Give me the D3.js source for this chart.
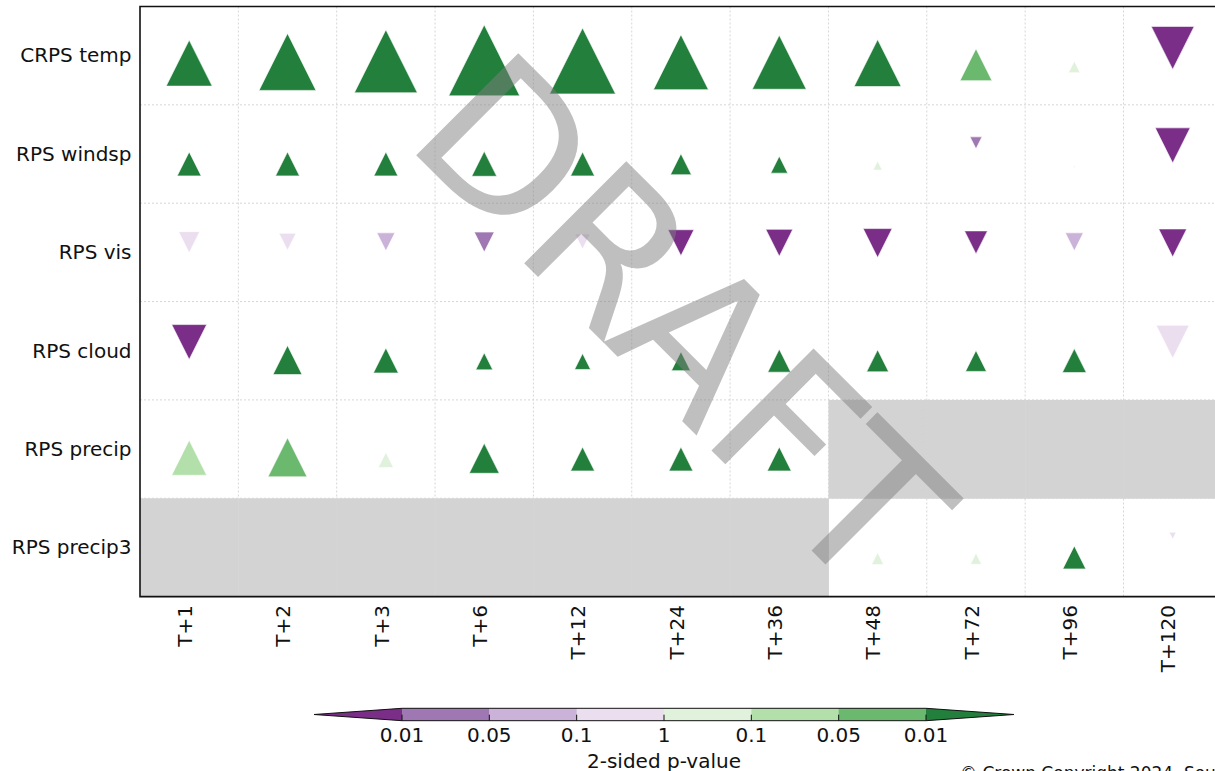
<!DOCTYPE html>
<html>
<head>
<meta charset="utf-8">
<script src="https://cdn.jsdelivr.net/npm/d3@7"></script>
<style>
  body { margin: 0; background: #fff; }
  svg { display: block; }
</style>
</head>
<body>
<div id="chart"></div>
<script>
const rowNames = ["CRPS temp", "RPS windsp", "RPS vis", "RPS cloud", "RPS precip", "RPS precip3"];
const leadTimes = ["T+1", "T+2", "T+3", "T+6", "T+12", "T+24", "T+36", "T+48", "T+72", "T+96", "T+120"];

// % change in score, sign gives the triangle direction; null = no data (grey cell)
const tempChange = [4.6, 5.7, 6.3, 7.1, 6.6, 5.5, 5.4, 4.7, 3.2, 1.15, -4.3];
const windspChange = [2.4, 2.4, 2.4, 2.5, 2.4, 2.1, 1.7, 0.9, -1.2, 0.2, -3.5];
const visChange = [-2.1, -1.7, -1.8, -2.0, -1.5, -2.6, -2.7, -2.9, -2.3, -1.8, -2.8];
const cloudChange = [-3.5, 2.9, 2.5, 1.7, 1.6, 1.9, 2.3, 2.2, 2.1, 2.4, -3.3];
const precipChange = [3.5, 3.9, 1.5, 3.0, 2.4, 2.4, 2.4, null, null, null, null];
const precip3Change = [null, null, null, null, null, null, null, 1.2, 1.1, 2.3, -0.7];

// 2-sided p-values
const tempP = [0.005, 0.005, 0.005, 0.005, 0.005, 0.005, 0.005, 0.005, 0.03, 0.5, 0.005];
const windspP = [0.005, 0.005, 0.005, 0.005, 0.005, 0.005, 0.005, 0.5, 0.03, 0.5, 0.005];
const visP = [0.5, 0.5, 0.07, 0.03, 0.5, 0.005, 0.005, 0.005, 0.005, 0.07, 0.005];
const cloudP = [0.005, 0.005, 0.005, 0.005, 0.005, 0.005, 0.005, 0.005, 0.005, 0.005, 0.5];
const precipP = [0.07, 0.03, 0.5, 0.005, 0.005, 0.005, 0.005, null, null, null, null];
const precip3P = [null, null, null, null, null, null, null, 0.5, 0.5, 0.005, 0.5];

const pBreaks = [0.01, 0.05, 0.1];
const colorbarLabels = ["0.01", "0.05", "0.1", "1", "0.1", "0.05", "0.01"];

class Scorecard {
  sizes = { w: 1215, h: 771 };
  margin = { t: 6.5, l: 140, cell: 98.35 };
  purples = ["#7a2e88", "#9f78b3", "#cbb2d8", "#ebdeee"];
  greens = ["#237f3c", "#6bb96e", "#b3dfab", "#e0f1dc"];
  font = "DejaVu Sans";

  constructor(node) {
    this.node = node;
    const changes = [tempChange, windspChange, visChange, cloudChange, precipChange, precip3Change];
    const pvals = [tempP, windspP, visP, cloudP, precipP, precip3P];
    this.cells = [];
    rowNames.forEach((r, i) => {
      leadTimes.forEach((t, j) => {
        this.cells.push({ row: r, lead: t, change: changes[i][j], p: pvals[i][j] });
      });
    });
    this.draw();
  }

  createCanvas() {
    this.chart = d3.select(this.node)
      .append("svg")
      .attr("width", this.sizes.w)
      .attr("height", this.sizes.h)
      .attr("viewBox", [0, 0, this.sizes.w, this.sizes.h])
      .attr("font-family", this.font);
  }

  scales() {
    const m = this.margin;
    this.x = d3.scaleBand().domain(leadTimes)
      .range([m.l, m.l + m.cell * leadTimes.length]);
    this.y = d3.scaleBand().domain(rowNames)
      .range([m.t, m.t + m.cell * rowNames.length]);
    this.size = d3.scaleLinear().domain([0, 7.1]).range([0, 71]);
    this.pClass = d3.scaleThreshold().domain(pBreaks).range([0, 1, 2, 3]);
  }

  drawCells() {
    // grey where there is no verification
    this.chart.append("g")
      .selectAll("rect")
      .data(this.cells.filter((d) => d.change == null))
      .join("rect")
      .attr("x", (d) => this.x(d.lead))
      .attr("y", (d) => this.y(d.row))
      .attr("width", this.x.bandwidth() + 0.5)
      .attr("height", this.y.bandwidth() + 0.5)
      .attr("fill", "#d3d3d3");

    const [x0, x1] = this.x.range();
    const [y0, y1] = this.y.range();
    const grid = this.chart.append("g")
      .attr("stroke", "#d6d6d6")
      .attr("stroke-width", 1)
      .attr("stroke-dasharray", "2,2");
    grid.selectAll(".gx")
      .data(leadTimes.slice(1))
      .join("line")
      .attr("x1", (d) => this.x(d)).attr("x2", (d) => this.x(d))
      .attr("y1", y0).attr("y2", y1);
    grid.selectAll(".gy")
      .data(rowNames.slice(1))
      .join("line")
      .attr("y1", (d) => this.y(d)).attr("y2", (d) => this.y(d))
      .attr("x1", x0).attr("x2", x1);
  }

  drawMarkers() {
    const bw = this.x.bandwidth();
    const bh = this.y.bandwidth();
    const tri = (s, up) => {
      const a = up ? -0.61 * s : 0.61 * s;
      const b = up ? 0.39 * s : -0.39 * s;
      return `M0,${a}L${s / 2},${b}L${-s / 2},${b}Z`;
    };
    this.chart.append("g")
      .selectAll("path")
      .data(this.cells.filter((d) => d.change != null))
      .join("path")
      .attr("transform", (d) => {
        const cx = this.x(d.lead) + bw / 2;
        const cy = this.y(d.row) + bh / 2 + (d.change > 0 ? 12.5 : -12.5);
        return `translate(${cx},${cy})`;
      })
      .attr("d", (d) => tri(this.size(Math.abs(d.change)), d.change > 0))
      .attr("fill", (d) => (d.change > 0 ? this.greens : this.purples)[this.pClass(d.p)])
      .attr("stroke", "#fff")
      .attr("stroke-width", 0.6);
  }

  drawAxes() {
    const [x0, x1] = this.x.range();
    const [y0, y1] = this.y.range();
    const bw = this.x.bandwidth();
    const bh = this.y.bandwidth();

    // frame
    this.chart.append("path")
      .attr("d", `M${x1},${y0}H${x0}V${y1}H${x1}`)
      .attr("fill", "none")
      .attr("stroke", "#111")
      .attr("stroke-width", 1.6);

    this.chart.append("g")
      .selectAll("text")
      .data(rowNames)
      .join("text")
      .attr("x", x0 - 8.5)
      .attr("y", (d) => this.y(d) + bh / 2 + 6.8)
      .attr("text-anchor", "end")
      .attr("font-size", 20)
      .attr("fill", "#111")
      .text((d) => d);

    this.chart.append("g")
      .selectAll("text")
      .data(leadTimes)
      .join("text")
      .attr("transform", (d) => `translate(${this.x(d) + bw / 2 + 2.8},${y1 + 8.5}) rotate(-90)`)
      .attr("text-anchor", "end")
      .attr("font-size", 20)
      .attr("fill", "#111")
      .text((d) => d);
  }

  drawColorbar() {
    const cb = { x0: 402, x1: 926, top: 708.3, h: 12.4, ext: 88 };
    const cx = d3.scaleLinear().domain([0, colorbarLabels.length - 1]).range([cb.x0, cb.x1]);
    const segColors = [this.purples[1], this.purples[2], this.purples[3], this.greens[3], this.greens[2], this.greens[1]];
    const g = this.chart.append("g");
    const mid = cb.top + cb.h / 2;

    g.selectAll("rect")
      .data(segColors)
      .join("rect")
      .attr("x", (d, i) => cx(i))
      .attr("y", cb.top)
      .attr("width", (d, i) => cx(i + 1) - cx(i) + 0.3)
      .attr("height", cb.h)
      .attr("fill", (d) => d);

    g.append("path")
      .attr("d", `M${cb.x0},${cb.top}L${cb.x0 - cb.ext},${mid}L${cb.x0},${cb.top + cb.h}Z`)
      .attr("fill", this.purples[0]);
    g.append("path")
      .attr("d", `M${cb.x1},${cb.top}L${cb.x1 + cb.ext},${mid}L${cb.x1},${cb.top + cb.h}Z`)
      .attr("fill", this.greens[0]);

    // ticks + outline
    g.selectAll(".tick")
      .data(colorbarLabels)
      .join("line")
      .attr("x1", (d, i) => cx(i)).attr("x2", (d, i) => cx(i))
      .attr("y1", cb.top + cb.h).attr("y2", cb.top + cb.h - 6)
      .attr("stroke", "#111");
    g.append("path")
      .attr("d", `M${cb.x0 - cb.ext},${mid}L${cb.x0},${cb.top}H${cb.x1}L${cb.x1 + cb.ext},${mid}L${cb.x1},${cb.top + cb.h}H${cb.x0}Z`)
      .attr("fill", "none")
      .attr("stroke", "#111")
      .attr("stroke-width", 1);

    g.selectAll("text")
      .data(colorbarLabels)
      .join("text")
      .attr("x", (d, i) => cx(i))
      .attr("y", 741.7)
      .attr("text-anchor", "middle")
      .attr("font-size", 20)
      .attr("fill", "#111")
      .text((d) => d);

    g.append("text")
      .attr("x", (cb.x0 + cb.x1) / 2)
      .attr("y", 767.5)
      .attr("text-anchor", "middle")
      .attr("font-size", 20)
      .attr("fill", "#111")
      .text("2-sided p-value");
  }

  drawWatermark() {
    this.chart.append("text")
      .attr("transform", "translate(632,371) rotate(45)")
      .attr("text-anchor", "middle")
      .attr("font-size", 198)
      .attr("fill", "rgba(128,128,128,0.5)")
      .text("DRAFT");

    this.chart.append("text")
      .attr("x", 960)
      .attr("y", 778.5)
      .attr("font-size", 17)
      .attr("fill", "#111")
      .text("© Crown Copyright 2024, Source: Met Office");
  }

  draw() {
    this.createCanvas();
    this.scales();
    this.drawCells();
    this.drawMarkers();
    this.drawAxes();
    this.drawColorbar();
    this.drawWatermark();
  }
}

new Scorecard(document.getElementById("chart"));
</script>
</body>
</html>
